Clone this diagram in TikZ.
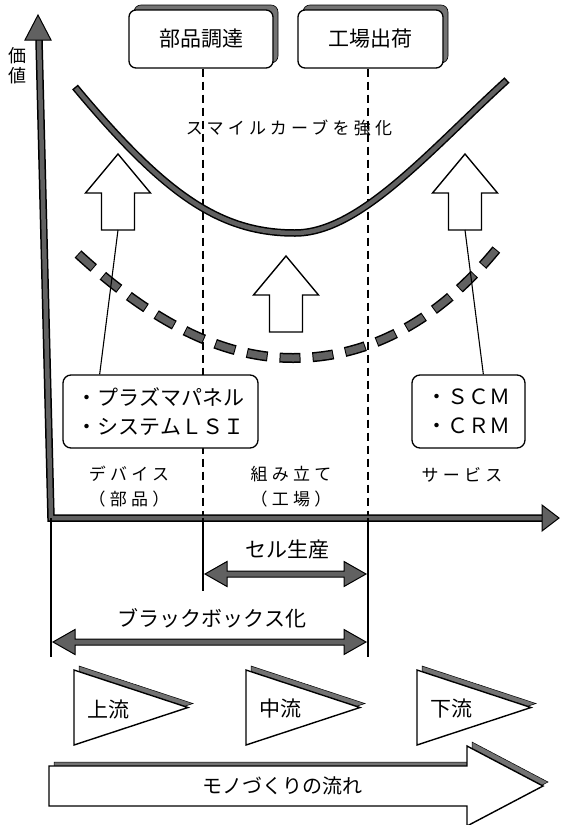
\documentclass[tikz,border=0pt]{standalone}
\usepackage{fontspec}
\setmainfont{Noto Sans CJK JP}
\newfontfamily\jpsp{Noto Sans CJK JP}[LetterSpace=25]
\usetikzlibrary{calc,shadows}
\definecolor{axgray}{gray}{0.38}
\definecolor{shgray}{gray}{0.45}
\newcommand\uparrowshape[1]{\draw[hollow] (#1) ++(-16.5,0) -- ++(0,-37) -- ++(-16,0) -- ++(32.5,-39) -- ++(32.5,39) -- ++(-16,0) -- ++(0,37) -- cycle;}
\newcommand\dbarrow[2]{\draw[grayshape] let \p1=(#1), \p2=(#2) in (\x1,\y1) -- (\x1+22pt,\y1+12.5pt) -- (\x1+22pt,\y1+3pt) -- (\x2-22pt,\y1+3pt) -- (\x2-22pt,\y1+12.5pt) -- (\x2,\y1) -- (\x2-22pt,\y1-12.5pt) -- (\x2-22pt,\y1-3pt) -- (\x1+22pt,\y1-3pt) -- (\x1+22pt,\y1-12.5pt) -- cycle;}
\newcommand\flowtri[1]{\draw[shadowfill] ($(#1)+(5,-4)$) -- ++(0,75) -- ++(114,-37.5) -- cycle;
  \draw[hollow] (#1) -- ++(0,75) -- ++(114,-37.5) -- cycle;}
\newcommand\bigarrowpath{(49,766) -- (467,766) -- (467,746) -- (543,786) -- (467,826) -- (467,806) -- (49,806) -- cycle}
\begin{document}
\begin{tikzpicture}[x=1pt,y=-1pt,
  fs/.style={font=\fontsize{#1}{#1}\selectfont},
  lab/.style={font=\jpsp\fontsize{17}{25}\selectfont, align=center},
  topbox/.style={draw, line width=1.3, rounded corners=7, fill=white, minimum width=144, minimum height=58,
    font=\fontsize{21}{21}\selectfont,
    copy shadow={shadow xshift=5pt, shadow yshift=5pt, fill=shgray, draw=black, line width=0.6}},
  listbox/.style={draw, line width=1.3, rounded corners=8, fill=white, minimum height=73, align=left,
    font=\fontsize{21}{29}\selectfont, inner xsep=13},
  vdash/.style={line width=1.3, dash pattern=on 8pt off 5pt},
  thinl/.style={line width=1.1},
  hollow/.style={draw, fill=white, line width=1.4, line join=miter},
  grayshape/.style={draw, fill=axgray, line width=1, line join=miter},
  shadowfill/.style={draw=black, fill=shgray, line width=0.5},
]
\useasboundingbox (0,0) rectangle (560,825);

% top boxes and vertical guides
\node[topbox] (bA) at (201,39) {部品調達};
\node[topbox, minimum width=145] (bB) at (370.5,39) {工場出荷};
\coordinate (dL) at (203,518);
\coordinate (dR) at (368,518);
\draw[vdash] (bA.south -| dL) -- (dL);
\draw[vdash] (bB.south -| dR) -- (dR);

% axes
\coordinate (ytop) at (39,40);
\coordinate (orig) at (51,518);
\coordinate (xend) at (544,518);
\draw[line width=7.5, line join=miter] (ytop) -- (orig) -- (xend);
\draw[line width=4.5, axgray, line join=miter] (ytop) -- (orig) -- (xend);
\draw[grayshape] (25,40) -- (38,15) -- (51,40) -- cycle;
\draw[grayshape] (542,505) -- (559,518) -- (542,531) -- cycle;
\node[fs=18, inner sep=0] (ylab1) at (18,56) {価};
\node[fs=18, inner sep=0] (ylab2) at (18,76) {値};

% smile curve
\draw[line width=7.5] (75,87) .. controls (165,195) and (220,233) .. (295,233) .. controls (360,233) and (430,150) .. (507,80);
\draw[line width=4.5, axgray, shorten <=1.5pt, shorten >=1.5pt] (75,87) .. controls (165,195) and (220,233) .. (295,233) .. controls (360,233) and (430,150) .. (507,80);
\node[font=\jpsp\fontsize{17}{17}\selectfont] (smile) at (289,128) {スマイルカーブを強化};

% dashed curve
\draw[line width=10, dash pattern=on 21pt off 12pt] (78,254) .. controls (150,320) and (220,358) .. (293,358) .. controls (370,358) and (440,320) .. (500,245);
\draw[line width=7, axgray, dash pattern=on 19pt off 14pt, dash phase=32pt] (78,254) .. controls (150,320) and (220,358) .. (293,358) .. controls (370,358) and (440,320) .. (500,245);

% hollow arrows
\coordinate (aL) at (118,230);
\coordinate (aM) at (286,332);
\coordinate (aR) at (465,230);
\uparrowshape{aL}
\uparrowshape{aM}
\uparrowshape{aR}

% list boxes
\node[listbox, minimum width=195] (pb) at (160.5,411.5) {・プラズマパネル\\・システムＬＳＩ};
\node[listbox, minimum width=113] (sb) at (468.5,411.5) {・ＳＣＭ\\・ＣＲＭ};
\draw[thinl] (aL) -- ($(pb.north west)!0.19!(pb.north east)$);
\draw[thinl] (aR) -- ($(sb.north west)!0.63!(sb.north east)$);

% region labels
\node[lab] (l1) at (129,487) {デバイス\\（部品）};
\node[lab] (l2) at (291,487) {組み立て\\（工場）};
\node[lab] (l3) at (462,475) {サービス};

% lower guides and double arrows
\coordinate (bl1) at (51,657);
\coordinate (bl2) at (203,591);
\coordinate (bl3) at (368,657);
\draw[thinl] (orig) -- (bl1);
\draw[thinl] (dL) -- (bl2);
\draw[thinl] (dR) -- (bl3);
\coordinate (s1) at (205,574);
\coordinate (s2) at (366,574);
\dbarrow{s1}{s2}
\node[fs=21] (sl) at (287,550) {セル生産};
\coordinate (b1) at (53,642);
\coordinate (b2) at (366,642);
\dbarrow{b1}{b2}
\node[fs=21] (bbl) at (212,618) {ブラックボックス化};

% flow triangles
\coordinate (t1) at (74,670);
\coordinate (t2) at (246,670);
\coordinate (t3) at (417,670);
\flowtri{t1}
\flowtri{t2}
\flowtri{t3}
\node[fs=21] (tx1) at ($(t1)+(34,39)$) {上流};
\node[fs=21] (tx2) at ($(t2)+(34,39)$) {中流};
\node[fs=21] (tx3) at ($(t3)+(34,39)$) {下流};

% big flow arrow
\draw[shadowfill, shift={(5,-4)}] \bigarrowpath;
\draw[hollow] \bigarrowpath;
\node[fs=20] (flow) at (282,786) {モノづくりの流れ};
\end{tikzpicture}
\end{document}
